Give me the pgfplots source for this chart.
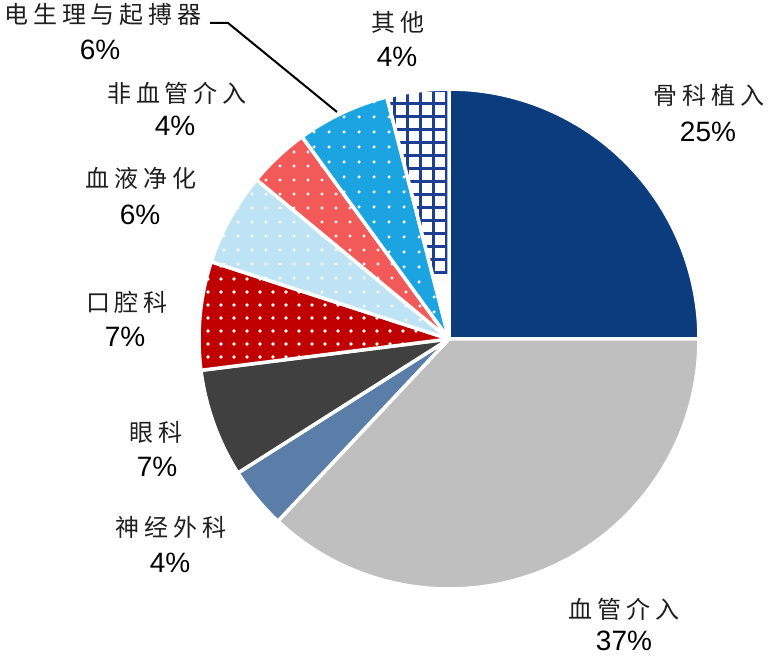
\documentclass[border=0pt]{standalone}
\usepackage{pgfplots}
\pgfplotsset{compat=1.18}
\usepackage{pgfplotstable}
\usetikzlibrary{patterns.meta}
\usepackage{fontspec}
\setmainfont{Liberation Sans}
\newfontfamily\cjk[LetterSpace=20]{Noto Sans CJK SC}

\definecolor{cGuke}{HTML}{0B3C7D}
\definecolor{cXueguan}{HTML}{BFBFBF}
\definecolor{cShenjing}{HTML}{5A7EA8}
\definecolor{cYanke}{HTML}{404040}
\definecolor{cKouqiang}{HTML}{C00000}
\definecolor{cXueye}{HTML}{BDE3F5}
\definecolor{cFeixue}{HTML}{F25A5A}
\definecolor{cDian}{HTML}{1BA4E0}
\definecolor{cQita}{HTML}{1C3F94}

\tikzset{
  slice0/.style={fill=cGuke},
  slice1/.style={fill=cXueguan},
  slice2/.style={fill=cShenjing},
  slice3/.style={fill=cYanke},
  slice4/.style={fill=cKouqiang,postaction={pattern={Dots[distance=13bp,radius=1.8bp]},pattern color=white}},
  slice5/.style={fill=cXueye,postaction={pattern={Dots[distance=14bp,radius=1.7bp]},pattern color=white}},
  slice6/.style={fill=cFeixue,postaction={pattern={Dots[distance=14bp,radius=1.7bp]},pattern color=white}},
  slice7/.style={fill=cDian,postaction={pattern={Dots[distance=15bp,radius=1.8bp]},pattern color=white}},
  slice8/.style={fill=white},
  lab/.style={inner sep=0pt,font=\fontsize{24bp}{28bp}\cjk,text=black!88},
  pct/.style={inner sep=0pt,font=\fontsize{28bp}{32bp}\selectfont,text=black},
}

\pgfplotstableread{
pct
25
37
4
7
7
6
4
6
4
}\piedata

\newcommand{\slicepath}[2]{(axis cs:0,0) -- (axis cs:{250*cos(#1)},{250*sin(#1)})
     arc[start angle=#1,end angle=#2,radius=250bp] -- cycle}
\newcommand{\slice}[3]{%
  \fill[slice#1] \slicepath{#2}{#3};
  \ifnum#1=8
    \begin{scope}
      \clip \slicepath{#2}{#3};
      \draw[cQita,line width=3bp,step=13bp,xshift=4bp,yshift=6bp] (axis cs:-90,60) grid (axis cs:10,270);
    \end{scope}
  \fi
  \draw[white,line width=3.5bp,line join=round] \slicepath{#2}{#3};
}

\begin{document}
\begin{tikzpicture}
\begin{axis}[
  x=1bp, y=1bp,
  xmin=-449, xmax=319, ymin=-317, ymax=339,
  scale only axis, hide axis, clip=false,
]
\path (rel axis cs:0,0) rectangle (rel axis cs:1,1);
\pgfplotstablegetrowsof{\piedata}
\pgfmathtruncatemacro\N{\pgfplotsretval-1}
\def\cum{0}
\pgfplotsforeachungrouped \i in {0,...,\N}{%
  \pgfplotstablegetelem{\i}{pct}\of\piedata
  \let\v\pgfplotsretval
  \pgfmathsetmacro\a{90-3.6*\cum}%
  \pgfmathsetmacro\b{90-3.6*(\cum+\v)}%
  \pgfmathsetmacro\cum{\cum+\v}%
  \xdef\cum{\cum}%
  \edef\temp{\noexpand\slice{\i}{\a}{\b}}%
  \temp
}

% leader line
\draw[black,line width=2bp] (axis cs:-239,316) -- (axis cs:-221,316) -- (axis cs:-112,227);

% labels
\node[lab] at (axis cs:260,244) {骨科植入};
\node[pct] at (axis cs:259,207) {25\%};
\node[lab] at (axis cs:175,-270) {血管介入};
\node[pct] at (axis cs:175,-302) {37\%};
\node[lab] at (axis cs:-278,-188) {神经外科};
\node[pct] at (axis cs:-279,-224) {4\%};
\node[lab] at (axis cs:-293,-93) {眼科};
\node[pct] at (axis cs:-292,-128) {7\%};
\node[lab] at (axis cs:-322,37) {口腔科};
\node[pct] at (axis cs:-324,2) {7\%};
\node[lab] at (axis cs:-308,161) {血液净化};
\node[pct] at (axis cs:-309,124) {6\%};
\node[lab] at (axis cs:-272,246) {非血管介入};
\node[pct] at (axis cs:-274,213) {4\%};
\node[lab] at (axis cs:-346,325) {电生理与起搏器};
\node[pct] at (axis cs:-349,289) {6\%};
\node[lab] at (axis cs:-51,317) {其他};
\node[pct] at (axis cs:-52,282) {4\%};
\end{axis}
\end{tikzpicture}
\end{document}
